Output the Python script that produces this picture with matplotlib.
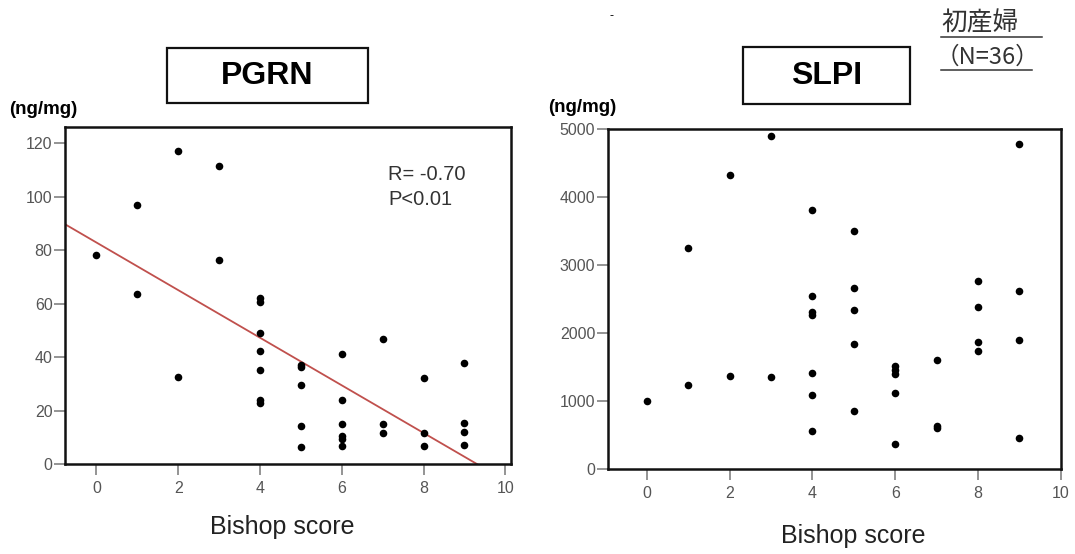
import matplotlib
matplotlib.use("Agg")
import matplotlib.pyplot as plt
from matplotlib.patches import Rectangle
from matplotlib.lines import Line2D

plt.rcParams['font.family'] = ['Liberation Sans', 'DejaVu Sans']

# PGRN vs Bishop score
pgrn_x = [0, 1, 1, 2, 2, 3, 3,
          4, 4, 4, 4, 4, 4, 4,
          5, 5, 5, 5, 5,
          6, 6, 6, 6, 6, 6,
          7, 7, 7,
          8, 8, 8,
          9, 9, 9, 9]
pgrn_y = [78.1, 96.7, 63.6, 117.1, 32.6, 111.6, 76.2,
          62.2, 60.4, 49.0, 42.1, 35.3, 23.9, 22.9,
          37.0, 36.2, 29.5, 14.3, 6.2,
          41.2, 23.9, 15.1, 10.5, 9.5, 6.8,
          46.7, 14.9, 11.5,
          32.2, 11.5, 6.8,
          37.6, 15.2, 12.0, 7.1]
reg_intercept = 82.8
reg_slope = -8.9

# SLPI vs Bishop score
slpi_x = [0, 1, 1, 2, 2, 3, 3,
          4, 4, 4, 4, 4, 4, 4,
          5, 5, 5, 5, 5,
          6, 6, 6, 6, 6,
          7, 7, 7,
          8, 8, 8, 8,
          9, 9, 9, 9]
slpi_y = [1002, 3255, 1237, 4330, 1373, 4902, 1359,
          3803, 2542, 2312, 2263, 1417, 1085, 562,
          3500, 2669, 2346, 1848, 860,
          1515, 1457, 1398, 1114, 371,
          1613, 635, 611,
          2771, 2385, 1872, 1740,
          4780, 2615, 1896, 464]

x_ticks = [0, 2, 4, 6, 8, 10]
pgrn_ticks = [0, 20, 40, 60, 80, 100, 120]
slpi_ticks = [0, 1000, 2000, 3000, 4000, 5000]

W, H = 1075, 554
fig = plt.figure(figsize=(W / 100, H / 100), dpi=100)


def fx(x):
    return x / W


def fy(y):
    return 1 - y / H


def style_axes(ax):
    for s in ax.spines.values():
        s.set_linewidth(1.8)
        s.set_color('#111111')
    ax.tick_params(direction='out', length=8, width=1.1, color='#777777',
                   labelcolor='#555555', labelsize=11.5)
    ax.tick_params(axis='x', pad=4)
    ax.tick_params(axis='y', pad=1)


# left panel
ax1 = fig.add_axes([fx(65), fy(464), fx(510.7 - 65), (464 - 127) / H])
ax1.scatter(pgrn_x, pgrn_y, s=30, color='black', zorder=3, linewidths=0)
xl = (-0.77, 10.13)
ax1.plot(xl, [reg_intercept + reg_slope * v for v in xl], color='#c0504d', lw=1.3, zorder=2)
ax1.set_xlim(*xl)
ax1.set_ylim(0, 126)
ax1.set_xticks(x_ticks)
ax1.set_yticks(pgrn_ticks)
style_axes(ax1)
ax1.text(0.725, 0.86, 'R= -0.70', transform=ax1.transAxes, fontsize=14.5, color='#333333',
         va='center', ha='left')
ax1.text(0.725, 0.785, 'P<0.01', transform=ax1.transAxes, fontsize=14.5, color='#333333',
         va='center', ha='left')

# right panel
ax2 = fig.add_axes([fx(607.7), fy(469.3), fx(1060.7 - 607.7), (469.3 - 129) / H])
ax2.scatter(slpi_x, slpi_y, s=30, color='black', zorder=3, linewidths=0)
ax2.set_xlim(-0.95, 10)
ax2.set_ylim(0, 5000)
ax2.set_xticks(x_ticks)
ax2.set_yticks(slpi_ticks)
style_axes(ax2)

# titles in boxes
for (x0, x1, y0, y1, label) in [(167, 368, 48, 103, 'PGRN'), (743, 910, 47, 104, 'SLPI')]:
    fig.patches.append(Rectangle((fx(x0), fy(y1)), fx(x1 - x0), (y1 - y0) / H,
                                 transform=fig.transFigure, fill=False,
                                 edgecolor='#111111', linewidth=1.6))
    fig.text(fx((x0 + x1) / 2), fy((y0 + y1) / 2 + 1), label, fontsize=23,
             fontweight='bold', ha='center', va='center', color='black')

# units
fig.text(fx(9), fy(110), '(ng/mg)', fontsize=13.5, fontweight='bold', ha='left', va='center')
fig.text(fx(548), fy(108), '(ng/mg)', fontsize=13.5, fontweight='bold', ha='left', va='center')

# x labels
fig.text(fx(282), fy(527), 'Bishop score', fontsize=18, ha='center', va='center', color='#222222')
fig.text(fx(853), fy(536), 'Bishop score', fontsize=18, ha='center', va='center', color='#222222')

# group note
cjk = ['Noto Sans CJK JP', 'DejaVu Sans']
fig.text(fx(941), fy(23), '初産婦', fontsize=18.5, family=cjk, ha='left', va='center',
         color='#333333')
fig.text(fx(936), fy(57), '（N=36）', fontsize=17, family=cjk, ha='left', va='center',
         color='#333333')
fig.lines.append(Line2D([fx(941), fx(1042)], [fy(37), fy(37)], transform=fig.transFigure,
                        color='#333333', lw=1.1))
fig.lines.append(Line2D([fx(941), fx(1032)], [fy(70), fy(70)], transform=fig.transFigure,
                        color='#333333', lw=1.1))
fig.text(fx(612), fy(16), '-', fontsize=9, ha='center', va='center', color='black')

fig.savefig('out.png', dpi=100)
